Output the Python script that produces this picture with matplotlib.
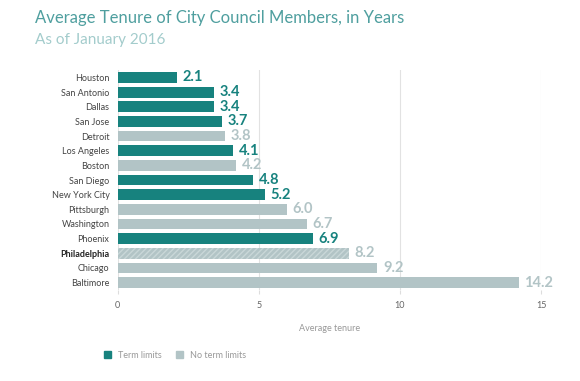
import matplotlib.pyplot as plt
from matplotlib.patches import Patch

cities = ['Houston', 'San Antonio', 'Dallas', 'San Jose', 'Detroit', 'Los Angeles',
          'Boston', 'San Diego', 'New York City', 'Pittsburgh', 'Washington',
          'Phoenix', 'Philadelphia', 'Chicago', 'Baltimore']
tenure = [2.1, 3.4, 3.4, 3.7, 3.8, 4.1, 4.2, 4.8, 5.2, 6.0, 6.7, 6.9, 8.2, 9.2, 14.2]
term_limits = [True, True, True, True, False, True, False, True, True,
               False, False, True, False, False, False]

teal = '#17827e'
grey = '#b2c4c6'

plt.rcParams['font.family'] = ['Lato', 'DejaVu Sans']

fig = plt.figure(figsize=(5.8, 3.81), dpi=100)
ax = fig.add_axes([0.203, 0.239, 0.730, 0.577])

y = list(range(len(cities)))
colors = [teal if t else grey for t in term_limits]
bars = ax.barh(y, tenure, height=0.74, color=colors, zorder=2)
# Philadelphia is hatched
for b, c in zip(bars, cities):
    if c == 'Philadelphia':
        b.set_hatch('//////')
        b.set_edgecolor('#c9d7d8')
        b.set_linewidth(0)

for yi, v, t in zip(y, tenure, term_limits):
    ax.text(v + 0.2, yi, f'{v:.1f}', va='center', ha='left', fontsize=10.5,
            fontweight='bold', color=teal if t else grey, clip_on=False)

ax.set_ylim(len(cities) - 0.5, -0.5)
ax.set_xlim(0, 15)
ax.set_yticks(y)
ax.set_yticklabels(cities, fontsize=6.5, color='#444444')
for lbl in ax.get_yticklabels():
    if lbl.get_text() == 'Philadelphia':
        lbl.set_fontweight('bold')
        lbl.set_color('#222222')
ax.set_xticks([0, 5, 10, 15])
ax.tick_params(axis='x', length=3, color='#dddddd', labelsize=6.5, labelcolor='#666666', pad=5)
ax.tick_params(axis='y', length=0, pad=6)
ax.grid(axis='x', color='#e2e2e2', linewidth=0.8, zorder=0)
for s in ax.spines.values():
    s.set_visible(False)
ax.set_xlabel('Average tenure', fontsize=6.5, color='#999999', labelpad=10)

fig.text(0.06, 0.953, 'Average Tenure of City Council Members, in Years', fontsize=12,
         color='#4f9f9f', va='center')
fig.text(0.06, 0.895, 'As of January 2016', fontsize=11,
         color='#a3cccc', va='center')

handles = [Patch(color=teal, label='Term limits'), Patch(color=grey, label='No term limits')]
fig.legend(handles=handles, loc='center left', bbox_to_anchor=(0.165, 0.068), ncol=2,
           frameon=False, fontsize=6.5, handlelength=0.8, handleheight=0.8,
           columnspacing=1.5, handletextpad=0.8, labelcolor='#999999')

fig.savefig('out.png', dpi=100)
